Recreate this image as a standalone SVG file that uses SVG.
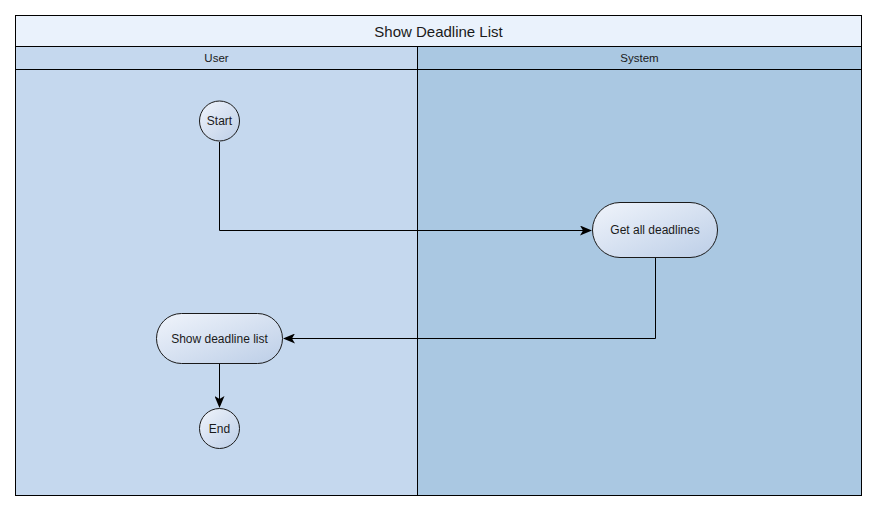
<svg xmlns="http://www.w3.org/2000/svg" width="878" height="512" viewBox="0 0 878 512">
<defs>
<linearGradient id="g" x1="0" y1="0" x2="1" y2="1">
<stop offset="0" stop-color="#F0F4FB"/>
<stop offset="1" stop-color="#BCCEE7"/>
</linearGradient>
<marker id="arr" viewBox="0 0 12 10" refX="11" refY="5" markerWidth="12" markerHeight="10" markerUnits="userSpaceOnUse" orient="auto">
<path d="M0,0 L12,5 L0,10 L3,5 Z" fill="#000"/>
</marker>
<style>
text{font-family:"Liberation Sans",Arial,sans-serif;fill:#1a1a1a;text-anchor:middle;dominant-baseline:central}
.small{font-size:11.5px}
.lbl{font-size:12px}
.title{font-size:15px}
.node{fill:url(#g);stroke:#1a1a1a;stroke-width:1}
.edge{fill:none;stroke:#000;stroke-width:1;marker-end:url(#arr)}
.hdr{fill:#EAF2FC;stroke:#000;stroke-width:1}
.user{fill:#C5D8EE;stroke:#000;stroke-width:1}
.sys{fill:#AAC8E2;stroke:#000;stroke-width:1}
</style>
</defs>
<rect x="0" y="0" width="878" height="512" fill="#fff"/>
<g id="pool">
<rect class="hdr" x="15.5" y="15.5" width="846" height="31"/>
<text class="title" x="438.5" y="31">Show Deadline List</text>
<rect class="user" x="15.5" y="46.5" width="402" height="23"/>
<rect class="sys" x="417.5" y="46.5" width="444" height="23"/>
<text class="small" x="216.5" y="58">User</text>
<text class="small" x="639.5" y="58">System</text>
<rect class="user" x="15.5" y="69.5" width="402" height="426"/>
<rect class="sys" x="417.5" y="69.5" width="444" height="426"/>
</g>
<g id="connectors">
<path class="edge" d="M219.5,142 V230.5 H591"/>
<path class="edge" d="M655.5,258 V338.5 H284"/>
<path class="edge" d="M219.5,364 V407"/>
</g>
<g id="start">
<circle class="node" cx="219.5" cy="121" r="20"/>
<text class="lbl" x="219.5" y="121">Start</text>
</g>
<g id="get-all-deadlines">
<rect class="node" x="592.5" y="202.5" width="125" height="55" rx="27.5"/>
<text class="lbl" x="655" y="230">Get all deadlines</text>
</g>
<g id="show-deadline-list">
<rect class="node" x="156.5" y="313.5" width="126" height="50" rx="25"/>
<text class="lbl" x="219.5" y="338.5">Show deadline list</text>
</g>
<g id="end">
<circle class="node" cx="219.5" cy="428.5" r="20"/>
<text class="lbl" x="219.5" y="429">End</text>
</g>
</svg>
